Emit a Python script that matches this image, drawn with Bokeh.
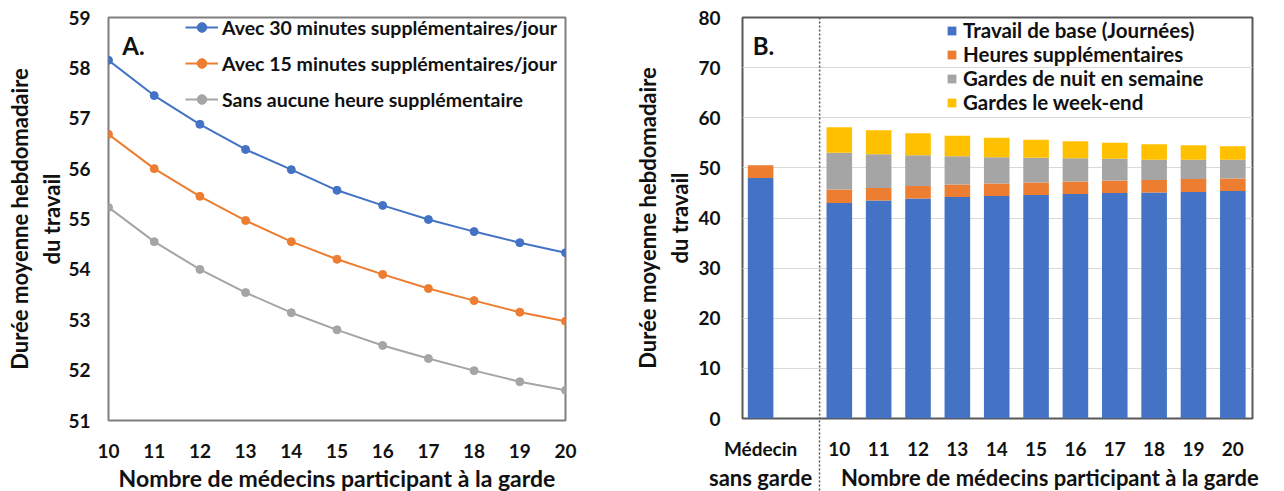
from bokeh.plotting import figure
from bokeh.layouts import row
from bokeh.models import (Legend, LegendItem, Label, FixedTicker, Range1d, Span,
                          LinearAxis, ColumnDataSource)
from bokeh.embed import file_html
from bokeh.resources import INLINE

# ---------------- data ----------------
nb_medecins = [10, 11, 12, 13, 14, 15, 16, 17, 18, 19, 20]
avec_30min = [58.15, 57.45, 56.88, 56.38, 55.98, 55.57, 55.27, 54.99, 54.75, 54.53, 54.33]
avec_15min = [56.68, 56.00, 55.45, 54.97, 54.55, 54.20, 53.90, 53.62, 53.38, 53.15, 52.97]
sans_heure = [55.23, 54.55, 54.00, 53.54, 53.14, 52.80, 52.49, 52.23, 51.99, 51.77, 51.60]

sans_garde_label = ["Médecin", "sans garde"]
sans_garde_base = 48.0
sans_garde_sup = 2.5
travail_base = [43.0, 43.5, 43.9, 44.2, 44.4, 44.6, 44.8, 45.0, 45.1, 45.2, 45.4]
heures_sup = [2.7, 2.5, 2.5, 2.5, 2.5, 2.5, 2.5, 2.5, 2.5, 2.6, 2.5]
gardes_nuit = [7.3, 6.7, 6.1, 5.6, 5.2, 4.9, 4.6, 4.3, 4.0, 3.8, 3.7]
gardes_we = [5.1, 4.8, 4.4, 4.1, 3.9, 3.6, 3.4, 3.2, 3.1, 2.9, 2.7]

legend_A = ["Avec 30 minutes supplémentaires/jour",
            "Avec 15 minutes supplémentaires/jour",
            "Sans aucune heure supplémentaire"]
legend_B = ["Travail de base (Journées)", "Heures supplémentaires",
            "Gardes de nuit en semaine", "Gardes le week-end"]

BLUE, ORANGE, GRAY, YELLOW = "#4472C4", "#ED7D31", "#A5A5A5", "#FFC000"
FONT = "Lato"
TXT = "#111111"
YLABEL = "Durée moyenne hebdomadaire\ndu travail"
XLABEL = "Nombre de médecins participant à la garde"


def style_axis(ax, tick_size="19px", label_size="22px"):
    ax.major_label_text_font = FONT
    ax.major_label_text_font_style = "bold"
    ax.major_label_text_font_size = tick_size
    ax.major_label_text_color = TXT
    ax.axis_label_text_font = FONT
    ax.axis_label_text_font_style = "bold"
    ax.axis_label_text_font_size = label_size
    ax.axis_label_text_color = TXT
    ax.major_tick_line_color = None
    ax.minor_tick_line_color = None
    ax.axis_line_color = None


# ---------------- panel A ----------------
pA = figure(frame_width=457, frame_height=403, min_border_left=108, min_border_top=17,
            min_border_right=55, min_border_bottom=71,
            x_range=Range1d(10, 20), y_range=Range1d(51, 59),
            output_backend="svg", toolbar_location=None)
pA.outline_line_color = "#7f7f7f"
pA.outline_line_width = 2
pA.grid.grid_line_color = None
for ax in (pA.xaxis[0], pA.yaxis[0]):
    style_axis(ax)
pA.xaxis.ticker = FixedTicker(ticks=nb_medecins)
pA.yaxis.ticker = FixedTicker(ticks=list(range(51, 60)))
pA.xaxis.axis_label = XLABEL
pA.xaxis.axis_label_text_font_size = "23px"
pA.yaxis.axis_label = YLABEL
pA.xaxis.major_label_standoff = 17
pA.yaxis.major_label_standoff = 12
pA.xaxis.axis_label_standoff = 3
pA.yaxis.axis_label_standoff = 0

items = []
for ys, col, lab in zip([avec_30min, avec_15min, sans_heure], [BLUE, ORANGE, GRAY], legend_A):
    r1 = pA.line(nb_medecins, ys, line_color=col, line_width=2)
    r2 = pA.scatter(nb_medecins, ys, size=8, fill_color=col, line_color=col)
    items.append(LegendItem(label=lab, renderers=[r1, r2]))
legA = Legend(items=items, location=(77, 309), padding=0, spacing=12, label_height=24,
              glyph_height=24, glyph_width=33, label_standoff=4,
              background_fill_alpha=0, border_line_color=None,
              label_text_font=FONT, label_text_font_style="bold",
              label_text_font_size="19.5px", label_text_color=TXT)
pA.add_layout(legA, "center")
pA.add_layout(Label(x=10.3, y=58.44, text="A.", text_font=FONT, text_font_style="bold",
                    text_font_size="24px", text_baseline="middle", text_color=TXT))

# ---------------- panel B ----------------
xpos = [0] + [i + 2 for i in range(len(nb_medecins))]
src = ColumnDataSource(dict(
    x=xpos,
    base=[sans_garde_base] + travail_base,
    sup=[sans_garde_sup] + heures_sup,
    nuit=[0.0] + gardes_nuit,
    we=[0.0] + gardes_we,
))
pB = figure(frame_width=510, frame_height=401, min_border_left=122, min_border_top=17,
            min_border_right=32, min_border_bottom=73,
            x_range=Range1d(-0.46, 12.5), y_range=Range1d(0, 80),
            output_backend="svg", toolbar_location=None)
pB.outline_line_color = "#595959"
pB.outline_line_width = 2
pB.xgrid.grid_line_color = None
pB.ygrid.grid_line_color = "#d9d9d9"
for ax in (pB.xaxis[0], pB.yaxis[0]):
    style_axis(ax)
pB.yaxis.ticker = FixedTicker(ticks=list(range(0, 81, 10)))
pB.xaxis.ticker = FixedTicker(ticks=xpos, minor_ticks=[1.5])
overrides = {0: sans_garde_label[0]}
for xp, n in zip(xpos[1:], nb_medecins):
    overrides[xp] = str(n)
pB.xaxis.major_label_overrides = overrides
# dotted separator continuing below the plot area
pB.xaxis.minor_tick_line_color = "#555555"
pB.xaxis.minor_tick_line_dash = "2 2"
pB.xaxis.minor_tick_line_width = 1.5
pB.xaxis.minor_tick_in = 0
pB.xaxis.minor_tick_out = 80
pB.xaxis.major_label_standoff = -62
pB.yaxis.axis_label = YLABEL
pB.yaxis.major_label_standoff = 16
pB.yaxis.axis_label_standoff = 2

# second row of category text below the tick labels
ax2 = LinearAxis(ticker=FixedTicker(ticks=[0, 7.35]),
                 major_label_overrides={0: sans_garde_label[1], 7.35: XLABEL})
style_axis(ax2, tick_size="22px")
ax2.major_tick_out = 0
ax2.major_tick_in = 0
ax2.minor_tick_out = 0
ax2.minor_tick_in = 0
ax2.major_label_standoff = 1
pB.add_layout(ax2, "below")

pB.add_layout(Span(location=1.5, dimension="height", line_color="#555555",
                   line_width=1.5, line_dash="2 2"))

rs = pB.vbar_stack(["base", "sup", "nuit", "we"], x="x", width=0.65, source=src,
                   color=[BLUE, ORANGE, GRAY, YELLOW], line_color=None)
legB = Legend(items=[LegendItem(label=l, renderers=[r]) for l, r in zip(legend_B, rs)],
              location=(204, 304), padding=0, spacing=0, label_height=23,
              glyph_height=11, glyph_width=11, label_standoff=6,
              background_fill_alpha=0, border_line_color=None,
              label_text_font=FONT, label_text_font_style="bold",
              label_text_font_size="20.5px", label_text_color=TXT)
pB.add_layout(legB, "center")
pB.add_layout(Label(x=-0.2, y=74.4, text="B.", text_font=FONT, text_font_style="bold",
                    text_font_size="24px", text_baseline="middle", text_color=TXT))

layout = row(pA, pB)
open("out.html", "w").write(file_html(layout, INLINE))
